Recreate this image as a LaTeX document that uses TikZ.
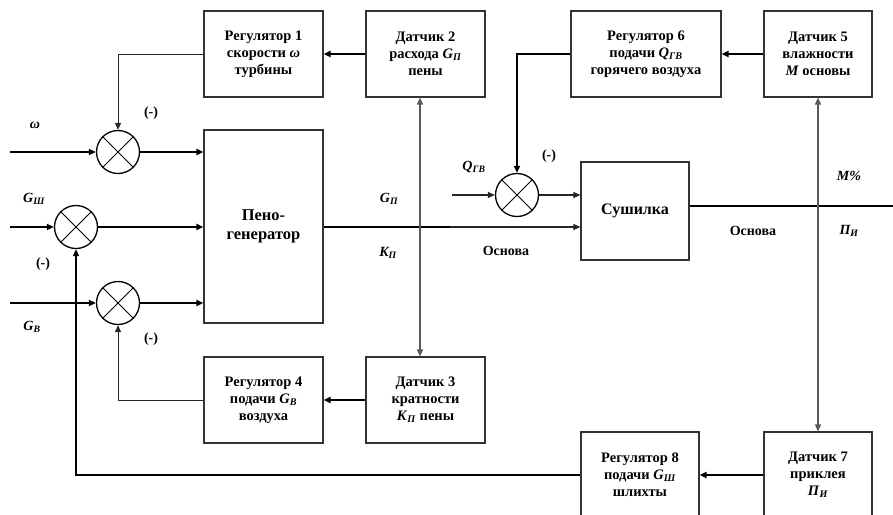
\documentclass[tikz,border=0pt]{standalone}
\usepackage{fontspec}
\setmainfont{Liberation Serif}
\usetikzlibrary{arrows.meta,calc}
\newcommand\vsub[2]{\textit{#1}\textsubscript{\textit{#2}}}
\tikzset{
  blk/.style={draw=black!80, line width=1.1pt, align=center, inner sep=0pt,
    font=\bfseries\fontsize{14.5}{17}\selectfont},
  sumj/.style={circle, draw=black, line width=1.3pt, minimum size=43pt, inner sep=0pt,
    path picture={\draw[line width=1pt] (path picture bounding box.north west) -- (path picture bounding box.south east)
      (path picture bounding box.north east) -- (path picture bounding box.south west);}},
  sig/.style={line width=1.8pt, draw=black},
  fb/.style={line width=1pt, draw=black!85},
  meas/.style={line width=1.4pt, draw=black!65},
  tip/.style={-{Triangle[length=7pt,width=6pt]}},
  tips/.style={{Triangle[length=7pt,width=6pt]}-{Triangle[length=7pt,width=6pt]}},
  lbl/.style={font=\bfseries\itshape\fontsize{14}{16}\selectfont, inner sep=0pt},
  lbr/.style={font=\bfseries\fontsize{14}{16}\selectfont, inner sep=0pt},
}
\begin{document}
\begin{tikzpicture}[x=1pt,y=-1pt]
\useasboundingbox (0,0) rectangle (893,514);
% blocks
\node[blk, minimum width=119pt, minimum height=86pt] (r1) at (263.5,54) {Регулятор 1\\скорости \textit{ω}\\турбины};
\node[blk, minimum width=119pt, minimum height=86pt] (d2) at (425.5,54) {Датчик 2\\расхода \vsub{G}{П}\\пены};
\node[blk, minimum width=150pt, minimum height=86pt] (r6) at (646,54) {Регулятор 6\\подачи \vsub{Q}{ГВ}\\горячего воздуха};
\node[blk, minimum width=108pt, minimum height=86pt] (d5) at (818,54) {Датчик 5\\влажности\\\textit{M} основы};
\node[blk, minimum width=119pt, minimum height=193pt, font=\bfseries\fontsize{16.5}{19}\selectfont] (peno) at (263.5,226.5) {Пено-\\генератор};
\node[blk, minimum width=108pt, minimum height=98pt, font=\bfseries\fontsize{16}{19}\selectfont] (sush) at (635,211) {Сушилка};
\node[blk, minimum width=119pt, minimum height=86pt] (r4) at (263.5,400) {Регулятор 4\\подачи \vsub{G}{В}\\воздуха};
\node[blk, minimum width=119pt, minimum height=86pt] (d3) at (425.5,400) {Датчик 3\\кратности\\\vsub{K}{П} пены};
\node[blk, minimum width=118pt, minimum height=86pt] (r8) at (640,475) {Регулятор 8\\подачи \vsub{G}{Ш}\\шлихты};
\node[blk, minimum width=108pt, minimum height=86pt] (d7) at (818,475) {Датчик 7\\приклея\\\vsub{П}{И}};
% summing junctions
\node[sumj] (s1) at (118,152) {};
\node[sumj] (s2) at (76,227) {};
\node[sumj] (s3) at (118,303) {};
\node[sumj] (s4) at (517,195) {};
% free ends
\coordinate (inw) at (10,152);
\coordinate (ing) at (10,227);
\coordinate (inb) at (10,303);
\coordinate (inq) at (452,195);
\coordinate (mid) at (450,227);
\coordinate (outr) at (893,206);
\coordinate (d2b) at ($(d2.south west)!0.454!(d2.south east)$);
\coordinate (d3t) at ($(d3.north west)!0.454!(d3.north east)$);
% forward signals
\draw[sig,tip] (inw) -- (s1.west);
\draw[sig,tip] (s1.east) -- (s1.east -| peno.west);
\draw[sig,tip] (ing) -- (s2.west);
\draw[sig,tip] (s2.east) -- (s2.east -| peno.west);
\draw[sig,tip] (inb) -- (s3.west);
\draw[sig,tip] (s3.east) -- (s3.east -| peno.west);
\draw[sig] (peno.east |- mid) -- (mid);
\draw[fb,line width=1.2pt,tip] (mid) -- (mid -| sush.west);
\draw[fb,line width=1.2pt,tip] (inq) -- (s4.west);
\draw[fb,line width=1.2pt,tip] (s4.east) -- (s4.east -| sush.west);
\draw[sig] (sush.east |- outr) -- (outr);
% measurements
\draw[meas,tips] (d2b) -- (d3t);
\draw[meas,tips] (d5.south) -- (d7.north);
% feedback
\draw[sig,tip] (d2.west) -- (r1.east);
\draw[fb,tip] (r1.west) -| (s1.north);
\draw[sig,tip] (d5.west) -- (r6.east);
\draw[sig,tip] (r6.west) -| (s4.north);
\draw[sig,tip] (d3.west) -- (r4.east);
\draw[fb,tip] (r4.west) -| (s3.south);
\draw[sig,tip] (d7.west) -- (r8.east);
\draw[sig,tip] (r8.west) -| (s2.south);
% labels
\node[lbl] at (35,125) {ω};
\node[lbl] at (34,199) {\vsub{G}{Ш}};
\node[lbl] at (32,327) {\vsub{G}{В}};
\node[lbr] at (151,113) {(-)};
\node[lbr] at (43,264) {(-)};
\node[lbr] at (151,339) {(-)};
\node[lbl] at (389,199) {\vsub{G}{П}};
\node[lbl] at (388,253) {\vsub{K}{П}};
\node[lbr] at (506,251) {Основа};
\node[lbl] at (474,167) {\vsub{Q}{ГВ}};
\node[lbr] at (549,156) {(-)};
\node[lbl] at (849,176) {M\%};
\node[lbr] at (753,231) {Основа};
\node[lbl] at (849,231) {\vsub{П}{И}};
\end{tikzpicture}
\end{document}
